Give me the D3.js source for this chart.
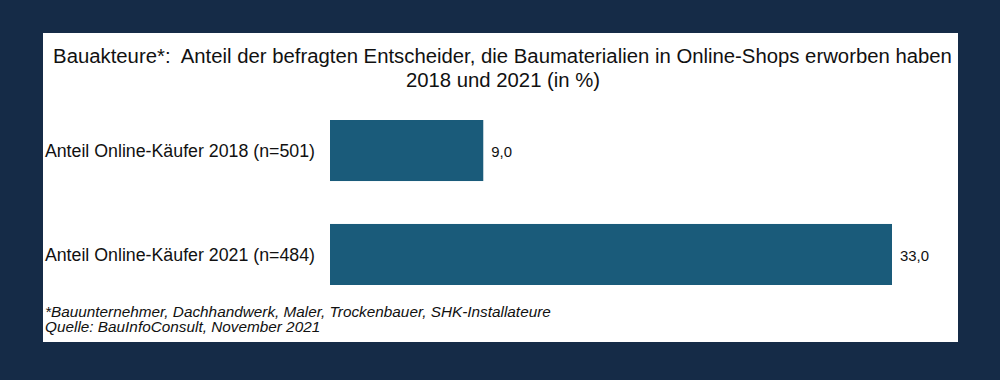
<!DOCTYPE html>
<html><head><meta charset="utf-8">
<script src="https://cdn.jsdelivr.net/npm/d3@7"></script>
<style>html,body{margin:0;padding:0;background:#152b47;}svg{display:block;}text{white-space:pre;}</style>
</head><body>
<svg id="chart" width="1000" height="380"></svg>
<script>
const categories = ["Anteil Online-Käufer 2018 (n=501)", "Anteil Online-Käufer 2021 (n=484)"];
const values = [9.0, 33.0];
const valueLabels = ["9,0", "33,0"];
const titleLines = ["Bauakteure*:  Anteil der befragten Entscheider, die Baumaterialien in Online-Shops erworben haben", "2018 und 2021 (in %)"];
const footnotes = ["*Bauunternehmer, Dachhandwerk, Maler, Trockenbauer, SHK-Installateure", "Quelle: BauInfoConsult, November 2021"];

const svg = d3.select("#chart");
const font = "'Liberation Sans', Arial, sans-serif";

svg.append("rect").attr("x",0).attr("y",0).attr("width",1000).attr("height",380).attr("fill","#152b47");
svg.append("rect").attr("x",43).attr("y",33).attr("width",915).attr("height",309).attr("fill","#ffffff");

function fit(sel, target, start){
  let s = start;
  sel.style("font-size", s+"px");
  for (let i=0;i<3;i++){
    const w = sel.node().getComputedTextLength();
    s = s*target/w;
    sel.style("font-size", s+"px");
  }
  return s;
}

const x = d3.scaleLinear().domain([0, 33]).range([330, 892]);
const y = d3.scaleBand().domain(categories).range([120, 285]).paddingInner(0.413).paddingOuter(0);

// title
const t1 = svg.append("text").attr("x",502.5).attr("y",63).attr("text-anchor","middle")
  .attr("xml:space","preserve")
  .attr("font-family",font).attr("fill","#111").text(titleLines[0]);
const ts = fit(t1, 899, 18);
svg.append("text").attr("x",503).attr("y",87).attr("text-anchor","middle")
  .attr("font-family",font).attr("fill","#111").style("font-size",ts+"px").text(titleLines[1]);

// bars
svg.selectAll("rect.bar").data(values).join("rect").attr("class","bar")
  .attr("x", x(0)).attr("y",(d,i)=>y(categories[i]))
  .attr("width", d=>x(d)-x(0)).attr("height", y.bandwidth())
  .attr("fill","#1a5b7a");

// category labels
const cl = svg.selectAll("text.cat").data(categories).join("text").attr("class","cat")
  .attr("x",315).attr("y",d=>y(d)+y.bandwidth()/2+6.5).attr("text-anchor","end")
  .attr("font-family",font).attr("fill","#111").text(d=>d);
const cs = fit(d3.select(cl.nodes()[0]), 270, 16);
cl.style("font-size", cs+"px");

// value labels
const vl = svg.selectAll("text.val").data(values).join("text").attr("class","val")
  .attr("x",d=>x(d)+8).attr("y",(d,i)=>y(categories[i])+y.bandwidth()/2+6.5)
  .attr("font-family",font).attr("fill","#111").text((d,i)=>valueLabels[i]);
const vs = fit(d3.select(vl.nodes()[1]), 29, 13);
vl.style("font-size", vs+"px");

// footnotes
const f1 = svg.append("text").attr("x",45).attr("y",317).attr("font-family",font)
  .attr("font-style","italic").attr("fill","#111").text(footnotes[0]);
const fs = fit(f1, 506, 14);
svg.append("text").attr("x",45).attr("y",332).attr("font-family",font)
  .attr("font-style","italic").attr("fill","#111").style("font-size",fs+"px").text(footnotes[1]);
</script>
</body></html>
